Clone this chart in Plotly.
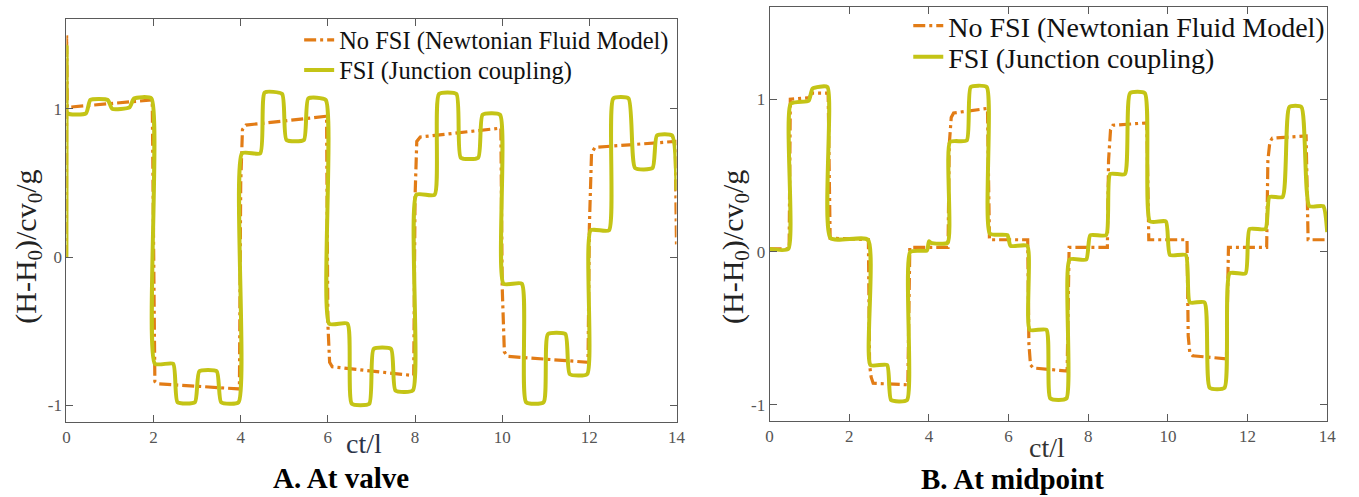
import plotly.graph_objects as go

# ---------------- data: dimensionless head vs dimensionless time ----------------
# A. At valve
valve_t_nofsi = [0, 0.005, 0.02, 1.97, 2.0, 2.03, 2.1, 3.97, 4.0, 4.04, 4.12, 5.97,
                 6.0, 6.04, 6.1, 7.97, 8.0, 8.04, 8.12, 9.97, 10.0, 10.05, 10.12, 11.97,
                 12.0, 12.05, 12.13, 13.97, 14.0]
valve_h_nofsi = [0, 1.5, 1.01, 1.06, 0.3, -0.84, -0.855, -0.89, 0.5, 0.86, 0.89, 0.95,
                 -0.45, -0.71, -0.74, -0.80, 0.4, 0.78, 0.81, 0.87, -0.2, -0.64, -0.67, -0.71,
                 0.2, 0.70, 0.74, 0.78, 0.08]

valve_t_fsi = [0, 0.005, 0.03, 0.45, 0.55, 0.95, 1.05, 1.45, 1.55, 1.95,
               2.03, 2.45, 2.55, 2.95, 3.05, 3.45, 3.55, 3.95,
               4.03, 4.45, 4.55, 4.95, 5.05, 5.45, 5.55, 5.95,
               6.03, 6.45, 6.55, 6.95, 7.05, 7.45, 7.55, 7.95,
               8.03, 8.45, 8.55, 8.95, 9.05, 9.45, 9.55, 9.95,
               10.03, 10.45, 10.55, 10.95, 11.05, 11.45, 11.55, 11.95,
               12.03, 12.45, 12.55, 12.9, 13.05, 13.45, 13.55, 13.9, 14.0]
valve_h_fsi = [0, 1.42, 0.97, 0.97, 1.06, 1.06, 1.0, 1.01, 1.07, 1.07,
               -0.72, -0.72, -0.98, -0.98, -0.77, -0.77, -0.98, -0.98,
               0.70, 0.70, 1.11, 1.10, 0.79, 0.79, 1.07, 1.06,
               -0.45, -0.45, -0.99, -0.99, -0.62, -0.62, -0.90, -0.90,
               0.42, 0.42, 1.10, 1.10, 0.67, 0.67, 0.96, 0.96,
               -0.18, -0.18, -0.98, -0.98, -0.52, -0.52, -0.79, -0.79,
               0.18, 0.18, 1.07, 1.07, 0.60, 0.60, 0.82, 0.82, 0.45]

# B. At midpoint
mid_t_nofsi = [0, 0.49, 0.52, 1.0, 1.05, 1.47, 1.52, 2.48, 2.51, 2.55, 2.6, 3.47,
               3.52, 4.48, 4.51, 4.56, 4.62, 5.47, 5.52, 6.48, 6.51, 6.55, 6.62, 7.47,
               7.52, 8.48, 8.51, 8.56, 8.62, 9.47, 9.52, 10.48, 10.51, 10.55, 10.62, 11.47,
               11.52, 12.48, 12.51, 12.56, 12.62, 13.47, 13.52, 14.0]
mid_h_nofsi = [0.02, 0.02, 1.0, 1.01, 1.04, 1.04, 0.09, 0.08, -0.74, -0.82, -0.86, -0.87,
               0.03, 0.03, 0.70, 0.88, 0.91, 0.94, 0.08, 0.08, -0.60, -0.74, -0.76, -0.78,
               0.03, 0.03, 0.60, 0.80, 0.83, 0.845, 0.08, 0.08, -0.55, -0.66, -0.68, -0.70,
               0.03, 0.03, 0.60, 0.72, 0.745, 0.76, 0.08, 0.08]

mid_t_fsi = [0, 0.47, 0.53, 0.98, 1.08, 1.45, 1.53, 2.47, 2.53, 2.95, 3.05, 3.45,
             3.53, 3.95, 4.0, 4.05, 4.47, 4.53, 4.95, 5.05, 5.45, 5.53, 5.97, 6.05,
             6.47, 6.53, 6.95, 7.05, 7.45, 7.53, 7.95, 8.05, 8.45, 8.55, 8.92, 9.05,
             9.42, 9.55, 9.95, 10.05, 10.45, 10.55, 10.92, 11.05, 11.42, 11.55, 11.95, 12.05,
             12.45, 12.55, 12.88, 13.05, 13.35, 13.55, 13.9, 14.0]
mid_h_fsi = [0.02, 0.02, 0.97, 0.99, 1.07, 1.08, 0.09, 0.08, -0.74, -0.74, -0.97, -0.97,
             0.0, 0.01, 0.07, 0.06, 0.06, 0.72, 0.73, 1.08, 1.08, 0.12, 0.11, 0.04,
             0.04, -0.51, -0.51, -0.96, -0.96, -0.05, -0.05, 0.11, 0.11, 0.51, 0.51, 1.04,
             1.04, 0.20, 0.20, -0.02, -0.02, -0.33, -0.33, -0.89, -0.89, -0.14, -0.14, 0.15,
             0.15, 0.36, 0.36, 0.95, 0.95, 0.30, 0.30, 0.13]

x_ticks = [0, 2, 4, 6, 8, 10, 12, 14]
y_ticks = [-1, 0, 1]
y_ticktext = ["-1", "0", "1"]

NOFSI_NAME = "No FSI (Newtonian Fluid Model)"
FSI_NAME = "FSI (Junction coupling)"
ORANGE = "#E27C16"
OLIVE = "#C4C416"
SERIF = "Liberation Serif"
NOFSI_DASH = "12px,4px,3px,4px"

fig = go.Figure()

fig.add_trace(go.Scatter(x=valve_t_nofsi, y=valve_h_nofsi, mode="lines", name=NOFSI_NAME,
                         line=dict(color=ORANGE, width=3.2, dash=NOFSI_DASH), showlegend=True,
                         xaxis="x", yaxis="y", legend="legend"))
fig.add_trace(go.Scatter(x=valve_t_fsi, y=valve_h_fsi, mode="lines", name=FSI_NAME,
                         line=dict(color=OLIVE, width=4, shape="spline", smoothing=0.5),
                         showlegend=True, xaxis="x", yaxis="y", legend="legend2"))
fig.add_trace(go.Scatter(x=mid_t_nofsi, y=mid_h_nofsi, mode="lines", name=NOFSI_NAME,
                         line=dict(color=ORANGE, width=3.2, dash=NOFSI_DASH), showlegend=True,
                         xaxis="x2", yaxis="y2", legend="legend3"))
fig.add_trace(go.Scatter(x=mid_t_fsi, y=mid_h_fsi, mode="lines", name=FSI_NAME,
                         line=dict(color=OLIVE, width=4, shape="spline", smoothing=0.5),
                         showlegend=True, xaxis="x2", yaxis="y2", legend="legend4"))

W, H = 1359, 497

def px_x(p):
    return p / W

def px_y(p):
    return 1 - p / H

axis_common = dict(showline=True, linecolor="#5a5a5a", linewidth=1, mirror="ticks",
                   ticks="inside", ticklen=7, tickcolor="#5a5a5a", showgrid=False,
                   zeroline=False, tickfont=dict(family=SERIF, size=17, color="#555555"))

def legend_box(x_px, y_px, size):
    return dict(visible=True, x=px_x(x_px), y=px_y(y_px), xanchor="left", yanchor="middle",
                bgcolor="rgba(0,0,0,0)", borderwidth=0,
                font=dict(family=SERIF, size=size, color="#111111"))

fig.update_layout(
    width=W, height=H, autosize=False, showlegend=True,
    margin=dict(l=0, r=0, t=0, b=0),
    paper_bgcolor="white", plot_bgcolor="white",
    xaxis=dict(domain=[px_x(63), px_x(679)], range=[0, 14], tickvals=x_ticks,
               anchor="y", **axis_common),
    yaxis=dict(domain=[px_y(422), px_y(19)], range=[-1.113, 1.606], tickvals=y_ticks,
               ticktext=y_ticktext, anchor="x", **axis_common),
    xaxis2=dict(domain=[px_x(773), px_x(1336)], range=[0, 14], tickvals=x_ticks,
                anchor="y2", **axis_common),
    yaxis2=dict(domain=[px_y(421), px_y(7)], range=[-1.107, 1.604], tickvals=y_ticks,
                ticktext=y_ticktext, anchor="x2", **axis_common),
    legend=legend_box(298, 40, 24.5),
    legend2=legend_box(298, 70, 24.5),
    legend3=legend_box(913, 26, 28),
    legend4=legend_box(913, 57, 28),
)

ylabel = "(H-H<sub>0</sub>)/cv<sub>0</sub>/g"
annotations = [
    dict(text=ylabel, x=px_x(24), y=px_y(247), textangle=-90),
    dict(text=ylabel, x=px_x(738), y=px_y(247), textangle=-90),
    dict(text="ct/l", x=px_x(363), y=px_y(443), font=dict(family=SERIF, size=28, color="#2b3348")),
    dict(text="ct/l", x=px_x(1053), y=px_y(447), font=dict(family=SERIF, size=28, color="#333333")),
    dict(text="<b>A. At valve</b>", x=px_x(340), y=px_y(478),
         font=dict(family=SERIF, size=29, color="#000000")),
    dict(text="<b>B. At midpoint</b>", x=px_x(1018), y=px_y(479),
         font=dict(family=SERIF, size=29, color="#000000")),
]
for a in annotations:
    a.setdefault("font", dict(family=SERIF, size=30, color="#222222"))
    fig.add_annotation(xref="paper", yref="paper", showarrow=False,
                       xanchor="center", yanchor="middle", **a)

fig.write_html("out.html")
